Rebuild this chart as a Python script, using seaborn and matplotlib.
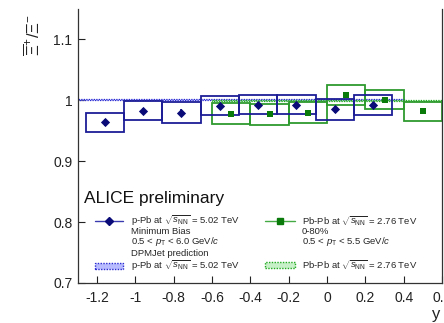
import numpy as np
import pandas as pd
import matplotlib
matplotlib.use("Agg")
import matplotlib.pyplot as plt
import seaborn as sns
from matplotlib.patches import Rectangle
from matplotlib.lines import Line2D

# ---- data ----
ppb_y = [-1.16, -0.96, -0.76, -0.56, -0.36, -0.16, 0.04, 0.24]
ppb_ratio = [0.964, 0.983, 0.980, 0.991, 0.993, 0.993, 0.985, 0.992]
ppb_stat = [0.006, 0.005, 0.005, 0.005, 0.005, 0.005, 0.005, 0.005]
ppb_sys = [0.016, 0.0155, 0.0165, 0.0155, 0.016, 0.016, 0.0165, 0.016]

pbpb_y = [-0.5, -0.3, -0.1, 0.1, 0.3, 0.5]
pbpb_ratio = [0.978, 0.977, 0.980, 1.009, 1.001, 0.982]
pbpb_stat = [0.003, 0.003, 0.003, 0.003, 0.003, 0.003]
pbpb_sys = [0.017, 0.017, 0.0175, 0.016, 0.016, 0.016]

dpm_ppb_x = [-1.3, 0.4]
dpm_ppb_lo = [1.0008, 1.0008]
dpm_ppb_hi = [1.0030, 1.0030]
dpm_pbpb_x = [-0.6, 0.6]
dpm_pbpb_lo = [0.9988, 0.9988]
dpm_pbpb_hi = [1.0005, 1.0005]

xticks = [-1.2, -1.0, -0.8, -0.6, -0.4, -0.2, 0.0, 0.2, 0.4, 0.6]
xticklabels = ["-1.2", "-1", "-0.8", "-0.6", "-0.4", "-0.2", "0", "0.2", "0.4", "0.6"]
yticks = [0.7, 0.8, 0.9, 1.0, 1.1]
yticklabels = ["0.7", "0.8", "0.9", "1", "1.1"]

BLUE = "#1c1c96"
BLUE_PT = "#0a0a78"
GREEN = "#2e9a2e"
GREEN_PT = "#0a7a0a"

sns.set_style("ticks")
plt.rcParams['font.family'] = ['Liberation Sans', 'DejaVu Sans']
plt.rcParams['mathtext.fontset'] = 'custom'
plt.rcParams['mathtext.rm'] = 'Liberation Sans'
plt.rcParams['mathtext.it'] = 'Liberation Sans:italic'
plt.rcParams['mathtext.bf'] = 'Liberation Sans:bold'

W, H = 444, 323
fig = plt.figure(figsize=(W / 100, H / 100), dpi=100)
ax = fig.add_axes([78 / W, 1 - 283 / H, (442 - 78) / W, (283 - 9) / H])

# DPMJet bands
ax.fill_between(dpm_ppb_x, dpm_ppb_lo, dpm_ppb_hi, facecolor="#c4c8ff",
                edgecolor="#2b2bd0", linestyle=(0, (1, 1)), linewidth=0.9, zorder=1)
ax.fill_between(dpm_pbpb_x, dpm_pbpb_lo, dpm_pbpb_hi, facecolor="#c8f0c8",
                edgecolor="#22aa22", linestyle=(0, (1, 1)), linewidth=0.9, zorder=1)

# systematic boxes
for xc, yc, s in zip(ppb_y, ppb_ratio, ppb_sys):
    ax.add_patch(Rectangle((xc - 0.1, yc - s), 0.2, 2 * s, fill=False,
                           edgecolor=BLUE, linewidth=1.3, zorder=3))
for xc, yc, s in zip(pbpb_y, pbpb_ratio, pbpb_sys):
    ax.add_patch(Rectangle((xc - 0.1, yc - s), 0.2, 2 * s, fill=False,
                           edgecolor=GREEN, linewidth=1.3, zorder=2))

# statistical error bars
ax.errorbar(ppb_y, ppb_ratio, yerr=ppb_stat, fmt="none", ecolor=BLUE_PT,
            elinewidth=1.2, zorder=4)
ax.errorbar(pbpb_y, pbpb_ratio, yerr=pbpb_stat, fmt="none", ecolor=GREEN_PT,
            elinewidth=1.2, zorder=4)

df_ppb = pd.DataFrame({"y": ppb_y, "r": ppb_ratio})
df_pbpb = pd.DataFrame({"y": pbpb_y, "r": pbpb_ratio})
sns.scatterplot(data=df_ppb, x="y", y="r", marker="D", s=22, color=BLUE_PT,
                edgecolor=BLUE_PT, linewidth=0, ax=ax, zorder=5)
sns.scatterplot(data=df_pbpb, x="y", y="r", marker="s", s=22, color=GREEN_PT,
                edgecolor=GREEN_PT, linewidth=0, ax=ax, zorder=5)

ax.set_xlim(-1.3, 0.6)
ax.set_ylim(0.7, 1.15)
ax.set_xticks(xticks)
ax.set_xticklabels(xticklabels)
ax.set_yticks(yticks)
ax.set_yticklabels(yticklabels)
ax.tick_params(direction="in", length=5, width=0.8, labelsize=10, colors="#222222", pad=6)
ax.tick_params(axis="y", pad=4)
ax.set_xlabel("")
ax.set_ylabel("")
for sp in ["left", "bottom", "right"]:
    ax.spines[sp].set_visible(True)
    ax.spines[sp].set_linewidth(0.9)
    ax.spines[sp].set_color("#333333")
ax.spines["top"].set_visible(False)

# axis titles
fig.text(436 / W, 1 - 314 / H, "y", fontsize=12, ha="center", va="center", color="#222222")
fig.text(33 / W, 1 - 35 / H, r"$\overline{\Xi}^{+}/\Xi^{-}$", rotation=90, fontsize=12,
         ha="center", va="center", color="#222222")

# legend / labels
def fx(px):
    return px / W

def fy(py):
    return 1 - py / H

fig.text(fx(84), fy(198), "ALICE preliminary", fontsize=12.5, ha="left", va="center", color="#111111")
fs = 6.8
fig.add_artist(Line2D([fx(95), fx(123)], [fy(221), fy(221)], color="#3a3ab0", lw=1.0,
                      transform=fig.transFigure))
fig.add_artist(Line2D([fx(109)], [fy(221)], marker="D", markersize=4.5, color=BLUE_PT,
                      linestyle="none", transform=fig.transFigure))
fig.text(fx(131), fy(221), r"p-Pb at $\sqrt{s_{\rm NN}}$ = 5.02 TeV", fontsize=fs, va="center")
fig.text(fx(131), fy(232), "Minimum Bias", fontsize=fs, va="center")
fig.text(fx(131), fy(242), r"0.5 < $p_{\rm T}$ < 6.0 GeV/$c$", fontsize=fs, va="center")
fig.text(fx(131), fy(254), "DPMJet prediction", fontsize=fs, va="center")
fig.add_artist(Rectangle((fx(95), fy(269)), fx(28), 6 / H, facecolor="#b8bcff",
                         edgecolor="#2b2bd0", linestyle=(0, (1, 1)), lw=1.0,
                         transform=fig.transFigure))
fig.text(fx(131), fy(266), r"p-Pb at $\sqrt{s_{\rm NN}}$ = 5.02 TeV", fontsize=fs, va="center")

fig.add_artist(Line2D([fx(265), fx(295)], [fy(221), fy(221)], color="#44aa44", lw=1.0,
                      transform=fig.transFigure))
fig.add_artist(Line2D([fx(280)], [fy(221)], marker="s", markersize=4, color=GREEN_PT,
                      linestyle="none", transform=fig.transFigure))
fig.text(fx(302), fy(221), r"Pb-Pb at $\sqrt{s_{\rm NN}}$ = 2.76 TeV", fontsize=fs, va="center")
fig.text(fx(302), fy(231), "0-80%", fontsize=fs, va="center")
fig.text(fx(302), fy(241), r"0.5 < $p_{\rm T}$ < 5.5 GeV/$c$", fontsize=fs, va="center")
fig.add_artist(Rectangle((fx(265), fy(268)), fx(30), 6 / H, facecolor="#c8f0c8",
                         edgecolor="#22aa22", linestyle=(0, (1, 1)), lw=1.0,
                         transform=fig.transFigure))
fig.text(fx(302), fy(265), r"Pb-Pb at $\sqrt{s_{\rm NN}}$ = 2.76 TeV", fontsize=fs, va="center")

fig.savefig("out.png", dpi=100)
